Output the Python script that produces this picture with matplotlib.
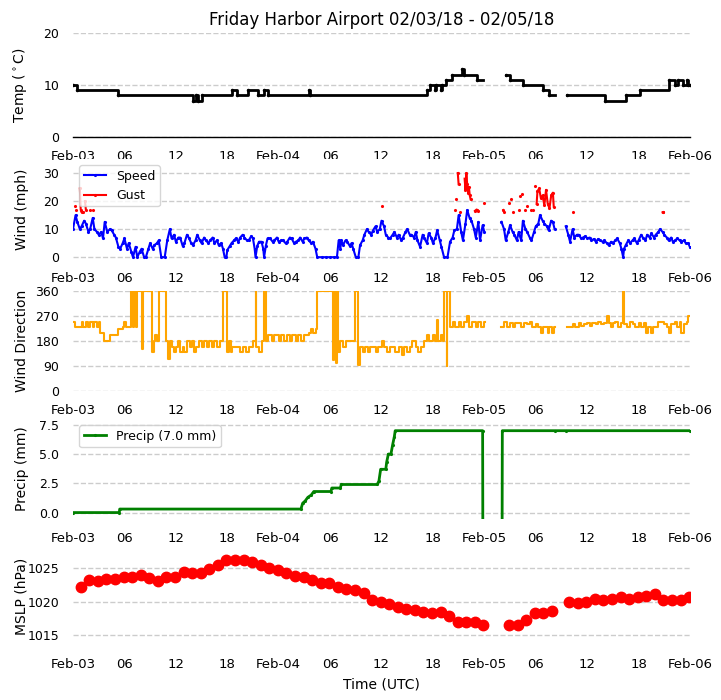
import matplotlib
matplotlib.use('Agg')
import matplotlib.pyplot as plt
import matplotlib.dates as mdates
import numpy as np
import pandas as pd

nan = np.nan
start = pd.Timestamp('2018-02-03')

# temperature (deg C), hours since Feb-03 00 UTC
temp_hr = [0.0, 0.5, 5.3, 14.0, 14.3, 14.6, 15.1, 18.5, 19.1, 20.4, 21.6, 22.3, 22.8, 27.5, 27.6,
           41.3, 41.7, 42.2, 42.4, 42.9, 43.1, 43.5, 44.2, 45.4, 45.6, 47.2, 47.8,
           50.5, 51.0, 52.5, 54.8, 55.5, 56.2,
           57.7, 62.1, 64.5, 66.2, 69.5, 70.3, 70.6, 71.2, 71.6, 71.8, 72.0]
temp_val = [10, 9, 8, 7, 8, 7, 8, 9, 8, 9, 8, 9, 8, 9, 8,
            9, 10, 9, 10, 9, 10, 11, 12, 13, 12, 11, nan,
            12, 11, 10, 9, 8, nan,
            8, 7, 8, 9, 11, 10, 11, 10, 11, 10, 10]

# wind speed (mph)
spd_hr = [0.0, 0.3, 0.5, 0.8, 1.0, 1.3, 1.5, 1.8, 2.0, 2.3, 2.5, 2.8, 3.0, 3.3, 3.5, 3.7, 4.0, 4.3,
          4.5, 4.8, 5.0, 5.3, 5.5, 5.8, 6.0, 6.3, 6.5, 6.8, 7.0, 7.3, 7.5, 7.8, 8.0, 8.3, 8.5, 8.8,
          9.0, 9.3, 9.5, 9.8, 10.0, 10.3, 10.7, 11.0, 11.3, 11.5, 11.8, 12.0, 12.3, 12.5, 12.8,
          13.0, 13.3, 13.5, 13.8, 14.0, 14.3, 14.5, 14.8, 15.0, 15.3, 15.5, 15.8, 16.0, 16.3,
          16.5, 16.8, 17.0, 17.3, 17.5, 17.7, 17.9, 18.0, 18.3, 18.5, 18.8, 19.0, 19.3, 19.5,
          19.8, 20.0, 20.3, 20.5, 20.8, 21.0, 21.2, 21.3, 21.5, 21.7, 22.0, 22.2, 22.3, 22.5,
          22.7, 23.0, 23.3, 23.5, 23.8, 24.0,
          24.3, 24.5, 24.8, 25.0, 25.3, 25.5, 25.8, 26.0, 26.3, 26.5, 26.8, 27.0, 27.3, 27.5,
          27.8, 28.0, 28.3, 28.5, 29.0, 29.5, 30.0, 30.5, 30.8, 31.0, 31.2, 31.3, 31.5, 31.8,
          32.0, 32.3, 32.5, 32.7, 33.0, 33.3, 33.5, 33.8, 34.0, 34.3, 34.5, 34.8, 35.0, 35.3,
          35.5, 35.8, 36.0, 36.3, 36.5, 36.8, 37.0, 37.3, 37.5, 37.8, 38.0, 38.3, 38.5, 38.8,
          39.0, 39.3, 39.5, 39.8, 40.0, 40.2, 40.5, 40.8, 41.0, 41.3, 41.5, 41.8, 42.0, 42.3,
          42.5, 42.8, 43.0, 43.3, 43.7, 44.0, 44.3, 44.5, 44.8, 45.0, 45.3, 45.5, 45.8, 46.0,
          46.3, 46.5, 46.8, 47.0, 47.3, 47.5, 47.8, 48.0, 48.1,
          50.0, 50.3, 50.5, 50.8, 51.0, 51.3, 51.5, 51.8, 52.0, 52.3, 52.5, 52.8, 53.0, 53.3,
          53.5, 53.8, 54.0, 54.3, 54.5, 54.8, 55.0, 55.3, 55.5, 55.8, 56.0, 56.2, 56.3,
          57.5, 57.8, 58.0, 58.3, 58.5, 58.8, 59.0, 59.3, 59.5, 59.8, 60.0, 60.3, 60.5, 60.8,
          61.0, 61.3, 61.5, 61.8, 62.0, 62.3, 62.5, 62.8, 63.0, 63.3, 63.5, 63.8, 64.0, 64.2,
          64.3, 64.5, 64.8, 65.0, 65.3, 65.5, 65.8, 66.0, 66.3, 66.5, 66.8, 67.0, 67.3, 67.5,
          67.8, 68.0, 68.3, 68.5, 68.8, 69.0, 69.3, 69.5, 69.8, 70.0, 70.3, 70.5, 70.8, 71.0,
          71.3, 71.5, 71.8, 72.0]
spd_val = [10, 15, 12.6, 10, 11, 13, 12, 9, 10, 14, 10, 9, 8, 9, 6.7, 12.6, 9, 10,
           9.6, 8, 7, 3.7, 3, 5, 6.7, 3, 5, 2, 0, 3.7, 0, 2, 3, 0, 0, 3,
           5, 3, 4.3, 5, 6, 0, 0, 6, 10, 6.7, 8, 5.5, 7, 7, 4,
           5, 8, 7, 5, 4.3, 6, 8, 6, 5, 7, 6, 5, 6, 7,
           5, 6, 4.3, 5, 3, 0, 0, 2.5, 4, 5, 6, 6.7, 5.5, 7,
           8, 7, 6, 6, 7.5, 6.7, 3, 0, 4, 5.5, 5.5, 3, 0, 4,
           6.7, 6.7, 5.5, 6, 7, 5.5,
           6, 6, 5, 5.5, 7, 6.7, 5, 5.5, 6, 7, 5.5, 6.7, 7, 6,
           5, 5.5, 3, 0, 0, 0, 0, 0, 0, 6, 3, 6, 4.3, 6,
           5.5, 4, 5, 3, 0, 0, 4.3, 6, 8, 10, 9, 8, 9.5, 11,
           9, 10, 13, 11, 8, 7, 6.7, 8, 9, 7, 8, 6, 7, 9,
           10, 8, 8, 7, 9, 6, 3.7, 8, 6.7, 5, 8.5, 7, 5, 7,
           9.6, 6, 3.7, 0, 0, 5.5, 7, 9.6, 10, 15, 9, 6, 12, 16.8,
           13.8, 13, 10, 7, 12.6, 6, 11.4, 9, nan,
           12.6, 10, 6, 9, 11.4, 9, 8, 6, 9, 6, 13, 10, 9, 7,
           6, 9, 11, 12, 15, 13, 12, 11, 9.6, 13, 12.6, 10, nan,
           11, 8, 5.5, 10, 7, 8, 8, 6.7, 7, 7.5, 6.7, 7, 6, 6.5,
           5.5, 6.5, 6, 5.5, 6, 5, 4.3, 5.5, 5, 6, 6.7, 5, 3, 0,
           3, 4.3, 6, 5, 6, 6.7, 5, 6, 8, 7, 6, 8, 7, 8.5,
           7, 8, 9, 10, 9, 8, 7, 6, 7, 5.5, 6, 6.7, 6, 5.5,
           6, 5, 5, 3.5]

# wind gusts (mph), nan breaks isolated reports
gust_hr = [0.2, 0.3, 0.4, 0.6, 0.8, 0.9, 1.0, 1.2, 1.3, 1.4, 1.5, 1.7, 2.0, 2.1, 2.3, 2.4,
           36.0, 36.1, 44.6, 44.65, 44.7, 44.8, 44.9, 45.0, 45.1, 45.2, 45.4,
           45.7, 45.8, 45.9, 46.0, 46.1, 46.2, 46.3, 46.4, 46.6, 46.9, 47.1, 47.3, 47.5,
           48.0, 48.5, 50.2, 50.3, 50.5, 50.9, 51.0, 51.1, 51.2, 51.4, 51.6, 52.0, 52.1,
           52.2, 52.3, 52.4, 52.5, 52.7, 52.8, 53.0, 53.2, 53.5, 53.6, 53.7, 53.8, 53.9, 54.0,
           54.1, 54.2, 54.4, 54.6, 54.8, 55.0, 55.2, 55.4, 55.6, 55.8, 56.0, 56.1, 56.3,
           58.4, 58.5, 68.8, 68.9]
gust_val = [18.3, nan, 16.8, nan, 24.5, 17, 16, 16, nan, 20, 17, nan, 16.8, nan, 17, nan,
            18.2, nan, 16.8, nan, 20.6, nan, 30, 26, nan, 16.2, nan,
            28, 24, 30, 26, 23, 25, 22, 20.6, nan, 16.5, 17, 16.5, nan,
            19.2, nan, 16.8, 16.2, nan, 19.2, nan, 20.6, nan, 16, nan, 17, nan,
            21.8, nan, 22.7, nan, 17, nan, 18.2, nan, 17, nan, 17, nan, 25.4, nan,
            19, 23.5, 24.5, 21, 22, 18.5, 24, 19, 17.4, 22, 23, 18, nan,
            16, nan, 16, 16]

# wind direction (deg)
dir_hr = [0.0, 0.2, 0.5, 0.8, 1.0, 1.2, 1.5, 1.8, 2.0, 2.3, 2.5, 2.8, 3.0, 3.2, 3.5, 3.6, 4.0,
          4.3, 4.6, 5.0, 5.2, 5.5, 5.8, 6.0, 6.2, 6.6, 6.8, 7.0, 7.1, 7.3, 7.4, 7.5, 7.9, 8.1,
          8.2, 8.6, 8.8, 9.0, 9.2, 9.4, 9.6, 9.8, 10.0, 10.8, 10.9, 11.1, 11.3, 11.5, 11.8,
          12.0, 12.3, 12.5, 12.8, 13.0, 13.3, 13.6, 13.9, 14.1, 14.4, 14.7, 15.0, 15.3, 15.6,
          15.9, 16.2, 16.5, 16.8, 17.1, 17.4, 17.5, 17.9, 18.0, 18.2, 18.4, 18.6, 19.0, 19.5,
          19.8, 20.2, 20.5, 20.8, 21.0, 21.2, 21.3, 21.4, 21.7, 22.0, 22.2, 22.3, 22.5, 22.8,
          23.2, 23.5, 24.0,
          24.3, 24.6, 25.0, 25.3, 25.6, 26.0, 26.3, 26.6, 27.0, 27.3, 27.5, 27.8, 28.0, 28.3,
          28.5, 30.2, 30.3, 30.4, 30.6, 30.7, 30.8, 30.9, 31.2, 31.5, 31.8, 32.1, 32.5, 32.8,
          32.9, 33.2, 33.3, 33.5, 33.8, 34.1, 34.4, 34.7, 35.0, 35.3, 35.6, 36.0, 36.3, 36.6,
          37.0, 37.3, 37.6, 38.0, 38.4, 38.6, 39.0, 39.3, 39.6, 40.0, 40.3, 40.6, 41.0, 41.3,
          41.6, 42.0, 42.3, 42.5, 42.6, 43.0, 43.2, 43.3, 43.5, 43.6, 43.7, 43.8, 44.0, 44.3,
          44.6, 45.0, 45.3, 45.6, 46.0, 46.2, 46.6, 47.0, 47.3, 47.6, 48.0, 48.1,
          50.0, 50.3, 50.6, 51.0, 51.3, 51.6, 52.0, 52.3, 52.6, 53.0, 53.3, 53.6, 54.0, 54.3,
          54.6, 54.8, 55.2, 55.4, 55.6, 55.9, 56.1, 56.2,
          57.6, 58.0, 58.3, 58.6, 59.0, 59.3, 59.6, 60.0, 60.3, 60.6, 61.0, 61.3, 61.6, 62.0,
          62.3, 62.5, 62.8, 63.0, 63.3, 63.6, 64.0, 64.2, 64.3, 64.6, 65.0, 65.3, 65.6, 66.0,
          66.3, 66.6, 66.9, 67.1, 67.4, 67.7, 68.0, 68.3, 68.6, 69.0, 69.3, 69.6, 69.8, 70.2,
          70.5, 70.8, 71.0, 71.3, 71.6, 71.8, 72.0]
dir_val = [250, 230, 230, 230, 250, 230, 250, 230, 250, 230, 250, 230, 250, 210, 210, 180, 180,
           200, 200, 200, 225, 225, 230, 250, 230, 230, 360, 230, 360, 360, 230, 360, 360, 150,
           360, 360, 360, 360, 140, 180, 200, 180, 360, 360, 180, 114, 180, 160, 140,
           160, 180, 140, 160, 140, 180, 160, 180, 140, 160, 180, 160, 180, 160,
           180, 160, 180, 160, 180, 180, 360, 360, 140, 180, 140, 160, 160, 140,
           160, 140, 160, 160, 180, 180, 360, 160, 140, 180, 180, 360, 180, 200,
           180, 200, 180,
           200, 180, 200, 180, 200, 180, 200, 180, 200, 200, 210, 225, 210, 225,
           360, 360, 110, 360, 360, 100, 360, 140, 180, 160, 180, 180, 180, 180,
           360, 360, 94, 160, 140, 160, 140, 160, 160, 140, 160, 180, 160, 140,
           160, 160, 140, 160, 130, 160, 140, 160, 180, 160, 140, 160, 180, 200,
           180, 200, 180, 255, 180, 200, 180, 360, 360, 90, 360, 360, 230, 250,
           230, 250, 230, 250, 270, 230, 250, 230, 250, 230, 250, nan,
           230, 250, 230, 245, 230, 245, 245, 230, 245, 240, 250, 230, 240, 230,
           210, 230, 230, 210, 230, 210, 230, nan,
           230, 230, 240, 230, 245, 235, 240, 245, 235, 245, 240, 250, 240, 245,
           270, 245, 230, 245, 250, 230, 245, 360, 240, 230, 250, 240, 230, 245,
           230, 245, 210, 230, 210, 230, 230, 250, 250, 240, 230, 210, 240, 250,
           230, 250, 210, 240, 250, 270, 270]

# accumulated precipitation (mm); -9.99 = missing report
pcp_hr = [0.0, 5.4, 5.45, 26.6, 26.8, 27.1, 27.4, 27.8, 28.1, 30.1, 30.2, 31.2, 31.3, 35.5,
          35.7, 35.9, 36.5, 36.6, 36.8, 37.1, 37.3, 37.5, 37.6, 47.8, 47.85, 48.5,
          50.05, 50.1, 56.2, 57.5, 72.0]
pcp_val = [0.0, 0.0, 0.3, 0.3, 0.8, 1.0, 1.3, 1.5, 1.8, 1.8, 2.1, 2.1, 2.4, 2.4,
           2.7, 3.7, 3.7, 4.3, 5.0, 5.0, 5.8, 6.5, 7.0, 7.0, -9.99, nan,
           -9.99, 7.0, 7.0, 7.0, 7.0]

# hourly sea level pressure (hPa)
slp_hr = [0.9, 1.9, 2.9, 3.9, 4.9, 5.9, 6.9, 7.9, 8.9, 9.9, 10.9, 11.9, 12.9, 13.9, 14.9,
          15.9, 16.9, 17.9, 18.9, 19.9, 20.9, 21.9, 22.9, 23.9, 24.9, 25.9, 26.9, 27.9,
          28.9, 29.9, 30.9, 31.9, 32.9, 33.9, 34.9, 35.9, 36.9, 37.9, 38.9, 39.9, 40.9,
          41.9, 42.9, 43.9, 44.9, 45.9, 46.9, 47.9, 50.9, 51.9, 52.9, 53.9, 54.9, 55.9,
          57.9, 58.9, 59.9, 60.9, 61.9, 62.9, 63.9, 64.9, 65.9, 66.9, 67.9, 68.9, 69.9,
          70.9, 71.9]
slp_val = [1022.1, 1023.2, 1023.0, 1023.3, 1023.3, 1023.6, 1023.6, 1023.9, 1023.5, 1023.0,
           1023.7, 1023.7, 1024.4, 1024.2, 1024.2, 1024.8, 1025.4, 1026.1, 1026.1, 1026.1,
           1025.8, 1025.4, 1025.05, 1024.7, 1024.2, 1023.8, 1023.7, 1023.2, 1022.7, 1022.7,
           1022.1, 1021.8, 1021.7, 1021.3, 1020.3, 1020.0, 1019.6, 1019.2, 1018.9, 1018.7,
           1018.5, 1018.3, 1018.5, 1017.8, 1017.0, 1016.9, 1016.9, 1016.5, 1016.5, 1016.5,
           1017.3, 1018.3, 1018.3, 1018.6, 1020.0, 1019.8, 1019.9, 1020.35, 1020.3, 1020.45,
           1020.65, 1020.45, 1020.65, 1020.8, 1021.05, 1020.3, 1020.3, 1020.3, 1020.65]


def to_time(hours):
    return start + pd.to_timedelta(np.asarray(hours, dtype=float), unit='h')


W, H = 721, 700
fig = plt.figure(figsize=(W / 100, H / 100), dpi=100)
left, right = 73, 690
boxes = [(33, 137), (159, 260), (291, 391), (419, 519), (547, 646)]
axes = []
for top, bot in boxes:
    axes.append(fig.add_axes([left / W, 1 - bot / H, (right - left) / W, (bot - top) / H]))
ax1, ax2, ax3, ax4, ax5 = axes

ax1.plot(to_time(temp_hr), temp_val, color='black', lw=2, drawstyle='steps-post',
         marker='.', ms=3)
ax1.set_ylim(0, 20)
ax1.set_yticks([0, 10, 20])
ax1.set_ylabel('Temp ($^\\circ$C)')
ax1.set_title('Friday Harbor Airport 02/03/18 - 02/05/18', fontsize=12)

ax2.plot(to_time(spd_hr), spd_val, color='blue', lw=1.5, marker='.', ms=2.5, label='Speed')
ax2.plot(to_time(gust_hr), gust_val, color='red', lw=1.5, marker='.', ms=2.5, label='Gust')
ax2.set_ylim(-1, 35)
ax2.set_yticks([0, 10, 20, 30])
ax2.set_ylabel('Wind (mph)')
ax2.legend(loc='upper left', fontsize=9, handlelength=1.8, borderpad=0.35)

ax3.plot(to_time(dir_hr), dir_val, color='orange', lw=1.5, drawstyle='steps-post')
ax3.set_ylim(0, 360)
ax3.set_yticks([0, 90, 180, 270, 360])
ax3.set_ylabel('Wind Direction')

ax4.plot(to_time(pcp_hr), pcp_val, color='green', lw=2, marker='.', ms=2.5,
         label='Precip (7.0 mm)')
ax4.set_ylim(-0.55, 8.0)
ax4.set_yticks([0, 2.5, 5.0, 7.5])
ax4.set_ylabel('Precip (mm)')
ax4.legend(loc='upper left', fontsize=9, handlelength=1.8, borderpad=0.35)

ax5.plot(to_time(slp_hr), slp_val, 'o', color='red', ms=7.5)
ax5.set_ylim(1013.4, 1028.1)
ax5.set_yticks([1015, 1020, 1025])
ax5.set_ylabel('MSLP (hPa)')
ax5.set_xlabel('Time (UTC)', fontsize=10)

for ax in axes:
    ax.set_xlim(to_time([0])[0], to_time([72])[0])
    ax.xaxis.set_major_locator(mdates.DayLocator())
    ax.xaxis.set_major_formatter(mdates.DateFormatter('%b-%d'))
    ax.xaxis.set_minor_locator(mdates.HourLocator(byhour=[6, 12, 18]))
    ax.xaxis.set_minor_formatter(mdates.DateFormatter('%H'))
    ax.tick_params(axis='x', which='both', length=0, pad=9, labelsize=9.5)
    ax.tick_params(axis='y', length=0, pad=10, labelsize=9)
    ax.yaxis.grid(True, linestyle='--', color='#cccccc', lw=1)
    ax.set_axisbelow(True)
    for s in ax.spines.values():
        s.set_visible(False)
    ax.yaxis.label.set_size(10)
    ax.yaxis.set_label_coords(-0.072, 0.5)

ax1.spines['bottom'].set_visible(True)
ax1.spines['bottom'].set_linewidth(1)

fig.savefig('out.png', dpi=100)
